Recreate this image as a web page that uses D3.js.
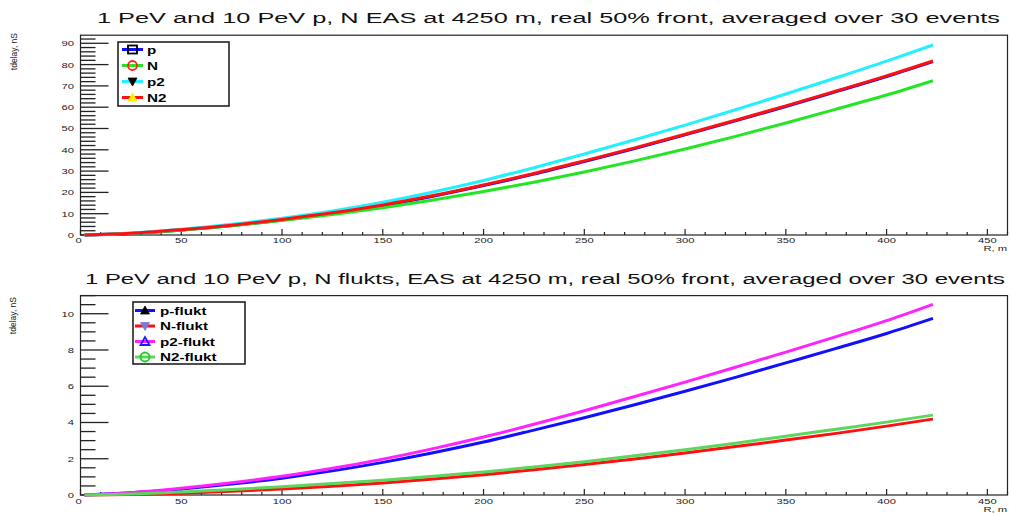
<!DOCTYPE html>
<html><head><meta charset="utf-8">
<script src="https://cdn.jsdelivr.net/npm/d3@7"></script>
<style>body{margin:0;background:#fff}svg{display:block}text{font-family:"Liberation Sans",Arial,sans-serif}</style>
</head><body><svg id="c" width="1011" height="513"></svg>
<script>
// ---- data ----
const R = [2, 25, 50, 75, 100, 125, 150, 175, 200, 225, 250, 275, 300, 325, 350, 375, 400, 423];
// top panel (tdelay, nS)
const pTop  = [0, 0.7, 2.3, 4.4, 7.0, 10.1, 13.8, 18.2, 23.2, 28.6, 34.5, 40.6, 47.0, 53.6, 60.3, 67.3, 74.4, 81.4];
const NTop  = [0, 0.7, 2.2, 4.3, 6.8, 9.6, 12.8, 16.4, 20.4, 24.8, 29.6, 34.8, 40.4, 46.3, 52.6, 59.1, 65.7, 72.4];
const p2Top = [0, 0.9, 2.7, 5.0, 7.9, 11.3, 15.4, 20.2, 25.6, 31.6, 38.0, 44.7, 51.6, 58.8, 66.2, 73.8, 81.6, 89.2];
const N2Top = [0, 0.8, 2.5, 4.6, 7.3, 10.4, 14.1, 18.5, 23.5, 28.9, 34.8, 40.9, 47.3, 53.9, 60.6, 67.6, 74.7, 81.7];
// bottom panel (flukt)
const pFl  = [0, 0.12, 0.33, 0.60, 0.93, 1.33, 1.80, 2.33, 2.92, 3.58, 4.26, 4.98, 5.72, 6.49, 7.29, 8.09, 8.91, 9.74];
const NFl  = [0, 0.03, 0.10, 0.20, 0.33, 0.48, 0.66, 0.88, 1.12, 1.39, 1.68, 1.99, 2.32, 2.67, 3.03, 3.40, 3.80, 4.19];
const p2Fl = [0, 0.13, 0.37, 0.67, 1.03, 1.47, 1.98, 2.56, 3.20, 3.90, 4.65, 5.43, 6.23, 7.05, 7.88, 8.74, 9.62, 10.52];
const N2Fl = [0, 0.05, 0.16, 0.30, 0.46, 0.63, 0.82, 1.03, 1.27, 1.54, 1.84, 2.16, 2.50, 2.86, 3.24, 3.63, 4.02, 4.41];
const xMajor = [0, 50, 100, 150, 200, 250, 300, 350, 400, 450];
const yMajorTop = [0, 10, 20, 30, 40, 50, 60, 70, 80, 90];
const yMajorBot = [0, 2, 4, 6, 8, 10];

const svg = d3.select("#c");
const SX = 1.4;

function stext(g, x, y, str, opt) {
  opt = opt || {};
  return g.append("text")
    .attr("transform", `translate(${x},${y}) scale(${opt.sx || SX},1)`)
    .attr("font-size", opt.size || 8)
    .attr("fill", opt.fill || "#222")
    .attr("text-anchor", opt.anchor || "middle")
    .attr("font-weight", opt.weight || "normal")
    .text(str);
}

function marker(g, type, cx, cy, col, filled) {
  const s = 4.5;
  let el;
  if (type === "square") {
    el = g.append("rect").attr("x", cx - s).attr("y", cy - s + 0.5).attr("width", 2 * s).attr("height", 2 * s - 1);
  } else if (type === "circle") {
    el = g.append("circle").attr("cx", cx).attr("cy", cy).attr("r", s);
  } else if (type === "up") {
    el = g.append("path").attr("d", `M${cx - s},${cy + s - 1}L${cx + s},${cy + s - 1}L${cx},${cy - s}Z`);
  } else {
    el = g.append("path").attr("d", `M${cx - s},${cy - s + 1}L${cx + s},${cy - s + 1}L${cx},${cy + s}Z`);
  }
  if (filled) el.attr("fill", col).attr("stroke", col).attr("stroke-width", 0.8);
  else el.attr("fill", "none").attr("stroke", col).attr("stroke-width", 1.8);
}

function panel(cfg) {
  const g = svg.append("g");
  const x = d3.scaleLinear().domain([0, 460]).range([80.5, 1007.5]);
  const y = d3.scaleLinear().domain([0, cfg.ymax]).range([cfg.y0, cfg.ytop]);
  // title
  g.append("text").attr("x", cfg.tx0).attr("y", cfg.tBase)
    .attr("font-size", 15.5).attr("fill", "#111")
    .attr("textLength", cfg.tw).attr("lengthAdjust", "spacingAndGlyphs")
    .text(cfg.title);
  // frame
  g.append("rect").attr("x", x(0)).attr("y", y(cfg.ymax)).attr("width", x(460) - x(0)).attr("height", y(0) - y(cfg.ymax))
    .attr("fill", "none").attr("stroke", "#222").attr("stroke-width", 1.2);
  // y ticks
  const yMinor = d3.range(0, cfg.ymax + 1e-9, cfg.yminor);
  g.selectAll(null).data(yMinor).enter().append("line")
    .attr("x1", x(0)).attr("x2", d => cfg.yMajor.some(m => Math.abs(m - d) < 1e-9) ? x(0) + 28 : x(0) + 15)
    .attr("y1", d => y(d)).attr("y2", d => y(d)).attr("stroke", "#222").attr("stroke-width", 1.3);
  cfg.yMajor.forEach(v => stext(g, 74, y(v) + 3, String(v), {anchor: "end", size: 8}));
  // x ticks
  const xMinor = d3.range(0, 461, 10);
  g.selectAll(null).data(xMinor).enter().append("line")
    .attr("x1", d => x(d)).attr("x2", d => x(d))
    .attr("y1", y(0)).attr("y2", d => xMajor.includes(d) ? y(0) - 6 : y(0) - 3)
    .attr("stroke", "#222").attr("stroke-width", 1.2);
  xMajor.forEach(v => stext(g, x(v) - (v === 0 ? 2 : 0), cfg.xlBase, String(v), {size: 8}));
  stext(g, 1007, cfg.xlBase + 8, "R, m", {anchor: "end", size: 8});
  // y axis title
  g.append("text").attr("transform", `translate(${cfg.ytX},${cfg.ytY}) rotate(-90)`)
    .attr("font-size", 8.5).attr("fill", "#222").attr("text-anchor", "end").text("tdelay, nS");
  // curves
  const line = d3.line().x((d, i) => x(R[i])).y(d => y(d)).curve(d3.curveMonotoneX);
  cfg.series.forEach(s => {
    g.append("path").attr("d", line(s.v)).attr("fill", "none").attr("stroke", s.col).attr("stroke-width", 3);
  });
  // legend
  const L = cfg.leg;
  g.append("rect").attr("x", L.x).attr("y", L.y).attr("width", L.w).attr("height", L.h)
    .attr("fill", "#fff").attr("stroke", "#222").attr("stroke-width", 1.6);
  cfg.legOrder.forEach((s, i) => {
    const cy = L.y + L.first + i * L.step;
    g.append("line").attr("x1", L.lx0).attr("x2", L.lx1).attr("y1", cy).attr("y2", cy)
      .attr("stroke", s.col).attr("stroke-width", 3);
    marker(g, s.m, (L.lx0 + L.lx1) / 2, cy, s.mc, s.mf);
    stext(g, L.tx, cy + 4, s.name, {anchor: "start", size: 10.5, weight: "bold", fill: "#000", sx: 1.45});
  });
}

const C = {blue: "#1010ff", red: "#ff1010", cyan: "#22f0ff", green: "#22e622", mag: "#ff22ff", lgreen: "#5cd65c"};

const pS = {name: "p", v: pTop, col: C.blue, m: "square", mc: "#000", mf: false};
const NS = {name: "N", v: NTop, col: C.green, m: "circle", mc: "#ff2020", mf: false};
const p2S = {name: "p2", v: p2Top, col: C.cyan, m: "down", mc: "#000", mf: true};
const N2S = {name: "N2", v: N2Top, col: C.red, m: "up", mc: "#ffee00", mf: true};

panel({
  title: "1 PeV and 10 PeV p, N EAS at 4250 m, real 50% front, averaged over 30 events",
  tx0: 97, tBase: 23, tw: 903,
  ymax: 93.8, y0: 235, ytop: 35.2, yMajor: yMajorTop, yminor: 2,
  xlBase: 243, ytX: 17, ytY: 33,
  series: [pS, NS, p2S, N2S],
  legOrder: [pS, NS, p2S, N2S],
  leg: {x: 118, y: 42, w: 111, h: 64, first: 7.5, step: 16, lx0: 122, lx1: 143, tx: 147}
});

const pF = {name: "p-flukt", v: pFl, col: C.blue, m: "up", mc: "#000", mf: true};
const NF = {name: "N-flukt", v: NFl, col: C.red, m: "down", mc: "#7a7ad8", mf: true};
const p2F = {name: "p2-flukt", v: p2Fl, col: C.mag, m: "up", mc: "#1a1aff", mf: false};
const N2F = {name: "N2-flukt", v: N2Fl, col: C.lgreen, m: "circle", mc: "#22cc22", mf: false};

panel({
  title: "1 PeV and 10 PeV p, N flukts, EAS at 4250 m, real 50% front, averaged over 30 events",
  tx0: 85, tBase: 283.5, tw: 920,
  ymax: 11, y0: 495, ytop: 295.6, yMajor: yMajorBot, yminor: 0.5,
  xlBase: 503.5, ytX: 16, ytY: 297,
  series: [pF, NF, p2F, N2F],
  legOrder: [pF, NF, p2F, N2F],
  leg: {x: 133, y: 302, w: 112, h: 62, first: 8.5, step: 15.5, lx0: 135, lx1: 155, tx: 160}
});
</script></body></html>
